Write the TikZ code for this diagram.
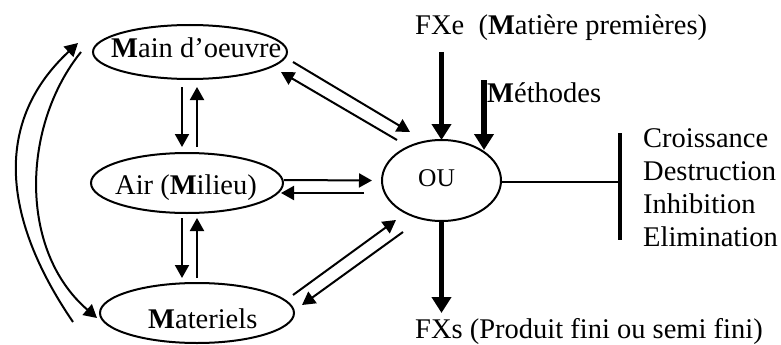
\documentclass[tikz,border=0pt]{standalone}
\usepackage{fontspec}
\setmainfont{Liberation Serif}
\usetikzlibrary{shapes.geometric,arrows.meta,calc}

\tikzset{
  ell/.style={ellipse, draw, line width=2pt, inner sep=0pt, outer sep=0pt},
  txt/.style={anchor=base west, inner sep=0pt, font=\fontsize{28.5}{34}\selectfont},
  arr/.style={line width=2pt, -{Triangle[length=13pt,width=14pt]}},
  bigarr/.style={line width=5.5pt, -{Triangle[length=16pt,width=19pt]}},
  plain/.style={line width=2pt},
}

\begin{document}
\begin{tikzpicture}[x=1pt,y=-1pt]
\useasboundingbox (0,0) rectangle (781,345);

% the four ellipses
\node[ell, minimum width=194pt, minimum height=54pt] (main) at (190,52) {};
\node[ell, minimum width=192pt, minimum height=60pt] (air)  at (187,183) {};
\node[ell, minimum width=194pt, minimum height=60pt] (mat)  at (197,313) {};
\node[ell, minimum width=119pt, minimum height=81pt] (ou)   at (441.5,180.5) {};

% their labels
\node[txt] (main-t) at (111,58)  {\textbf{M}ain d’oeuvre};
\node[txt] (air-t)  at (115,194) {Air (\textbf{M}ilieu)};
\node[txt] (mat-t)  at (148,328) {\textbf{M}ateriels};
\node[anchor=base, inner sep=0pt, font=\fontsize{25.5}{30}\selectfont] (ou-t) at (436.5,186) {OU};

% inputs, outputs and effects
\node[txt] (fxe)  at (415,35)  {FXe\ \ (\textbf{M}atière premières)};
\node[txt] (meth) at (487,102) {\textbf{M}éthodes};
\node[txt] (fxs)  at (415,338) {FXs (Produit fini ou semi fini)};
\node[txt] (e1) at (643,147) {Croissance};
\node[txt] (e2) at (643,180) {Destruction};
\node[txt] (e3) at (643,213) {Inhibition};
\node[txt] (e4) at (643,246) {Elimination};

% main d'oeuvre <-> air
\draw[arr] ($(main.south)+(-8,8)$) -- ($(air.north)+(-5,-6)$);
\draw[arr] ($(air.north)+(10,-6)$) -- ($(main.south)+(7,8)$);
% air <-> materiels
\draw[arr] ($(air.south)+(-5,5)$) -- ($(mat.north)+(-15,-5)$);
\draw[arr] ($(mat.north)+(0,-5)$) -- ($(air.south)+(10,5)$);
% air <-> OU
\draw[arr] ($(air.east)+(1,-3)$) -- ($(ou.west)+(-10,0)$);
\draw[arr] ($(ou.west)+(-18,12.5)$) -- ($(air.east)+(-2,10)$);
% main d'oeuvre <-> OU
\draw[arr] ($(main.center)+(103,10)$) -- ($(ou.center)+(-31.5,-48.5)$);
\draw[arr] ($(ou.center)+(-44.5,-40.5)$) -- ($(main.center)+(91,20)$);
% materiels <-> OU
\draw[arr] ($(mat.center)+(96,-18)$) -- ($(ou.center)+(-45.5,39.5)$);
\draw[arr] ($(ou.center)+(-38.5,51.5)$) -- ($(mat.center)+(105,-8)$);
% main d'oeuvre <-> materiels
\draw[arr] ($(mat.west)+(-27,9)$) .. controls (0,215) and (-5,120) .. ($(main.west)+(-15,-9)$);
\draw[arr] ($(main.west)+(-12,0)$) .. controls (22,125) and (18,250) .. ($(mat.west)+(-3,5)$);

% raw materials, methods and products
\coordinate (methtip) at ($(ou.center)+(42.5,-30.5)$);
\draw[bigarr] ($(ou.north)+(0,-88)$) -- (ou.north);
\draw[bigarr] ($(methtip)+(0,-70)$) -- (methtip);
\draw[bigarr] (ou.south) -- ($(ou.south)+(0,92)$);

% effects bracket
\coordinate (bar) at (620,182);
\draw[plain] (ou.east |- bar) -- (bar);
\draw[line width=3.5pt] ($(bar)+(0,-49)$) -- ($(bar)+(0,58)$);
\end{tikzpicture}
\end{document}
